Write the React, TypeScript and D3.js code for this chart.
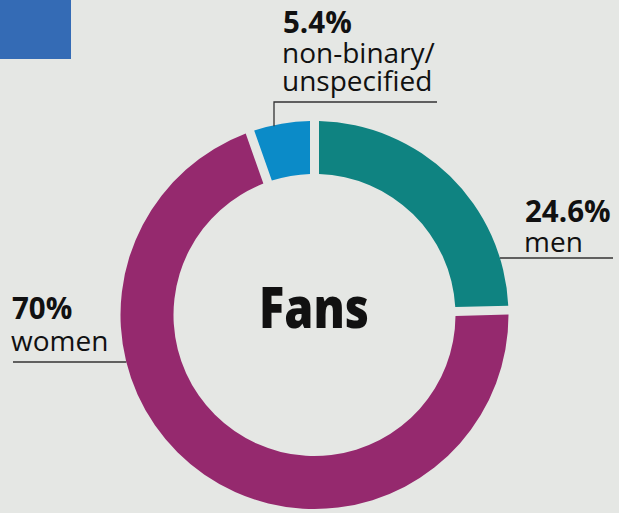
import React from "react";
import * as d3 from "d3";

const categories = ["men", "women", "non-binary/unspecified"];
const values = [24.6, 70, 5.4];
const valueLabels = ["24.6%", "70%", "5.4%"];
const colors = ["#0f8381", "#95296e", "#0b8bc8"];
const title = "Fans";

const W = 619;
const H = 513;
const BG = "#e5e7e4";
const cx = 314.5;
const cy = 315;
const rOuter = 194;
const rInner = 141;
const FONT = "'Open Sans', 'Noto Sans', sans-serif";

export default function App() {
  const pie = d3.pie<number>().sort(null).value((d) => d);
  const arcs = pie(values);
  const padR = Math.sqrt(rOuter * rOuter + rInner * rInner);
  const arcGen = d3
    .arc<d3.PieArcDatum<number>>()
    .innerRadius(rInner)
    .outerRadius(rOuter)
    .padRadius(padR)
    .padAngle(9 / padR);

  const outerX = (y: number, side: 1 | -1) =>
    cx + side * Math.sqrt(rOuter * rOuter - (y - cy) * (y - cy));

  const menLineY = 258;
  const womenLineY = 362;
  const nbLineY = 102;
  const nbX = 274;
  const nbYEnd = cy - Math.sqrt(rOuter * rOuter - (nbX - cx) * (nbX - cx)) + 1;

  const boldSize = 29.5;
  const regSize = 28;

  return (
    <svg
      width={W}
      height={H}
      style={{ position: "fixed", left: 0, top: 0, display: "block", background: BG }}
    >
      <rect x={0} y={0} width={W} height={H} fill={BG} />
      <rect x={0} y={0} width={71} height={59} fill="#346bb5" />
      <g transform={`translate(${cx},${cy})`}>
        {arcs.map((a, i) => (
          <path key={categories[i]} d={arcGen(a) || ""} fill={colors[i]} />
        ))}
      </g>
      <text
        x={259}
        y={328}
        fontFamily={FONT}
        fontWeight={800}
        fontSize={57}
        textLength={110}
        lengthAdjust="spacingAndGlyphs"
        fill="#111"
      >
        {title}
      </text>

      {/* men */}
      <line x1={outerX(menLineY, 1)} x2={613} y1={menLineY} y2={menLineY} stroke="#333" strokeWidth={1.3} />
      <text x={525} y={222} fontFamily={FONT} fontWeight={700} fontSize={boldSize} fill="#111">
        {valueLabels[0]}
      </text>
      <text x={524} y={252} fontFamily={FONT} fontWeight={400} fontSize={regSize} fill="#111">
        {categories[0]}
      </text>

      {/* women */}
      <line x1={13} x2={outerX(womenLineY, -1)} y1={womenLineY} y2={womenLineY} stroke="#333" strokeWidth={1.3} />
      <text x={12} y={319} fontFamily={FONT} fontWeight={700} fontSize={boldSize} fill="#111">
        {valueLabels[1]}
      </text>
      <text x={11} y={351} fontFamily={FONT} fontWeight={400} fontSize={regSize} fill="#111">
        {categories[1]}
      </text>

      {/* non-binary */}
      <polyline
        points={`${nbX},${nbYEnd} ${nbX},${nbLineY} 437,${nbLineY}`}
        fill="none"
        stroke="#333"
        strokeWidth={1.3}
      />
      <text x={283} y={33} fontFamily={FONT} fontWeight={700} fontSize={boldSize} fill="#111">
        {valueLabels[2]}
      </text>
      <text x={282} y={63} fontFamily={FONT} fontWeight={400} fontSize={regSize} fill="#111">
        {categories[2].split("/")[0] + "/"}
      </text>
      <text x={282} y={91} fontFamily={FONT} fontWeight={400} fontSize={regSize} fill="#111">
        {categories[2].split("/")[1]}
      </text>
    </svg>
  );
}
